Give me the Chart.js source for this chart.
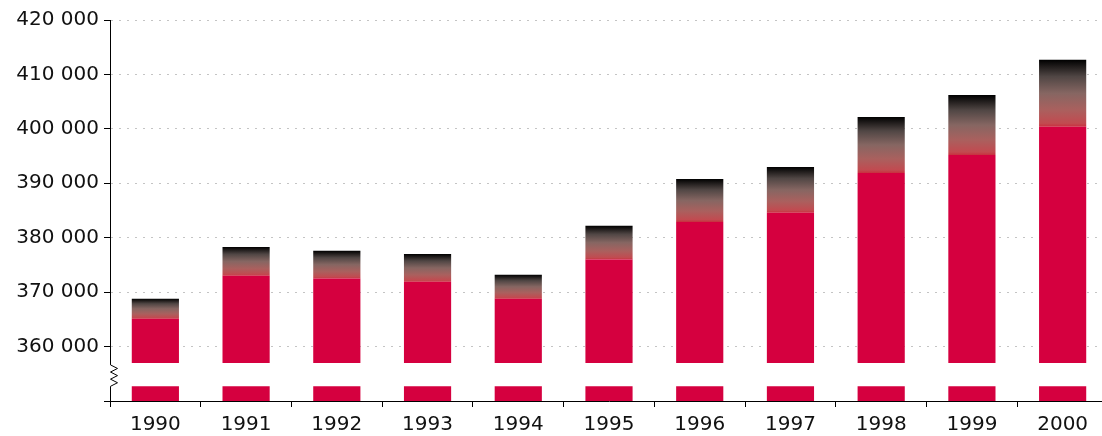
<!DOCTYPE html>
<html lang="en">
<head>
    <meta charset="UTF-8">
    <title>Bars 1990-2000</title>
    <script src="https://cdn.jsdelivr.net/npm/chart.js"></script>
    <style>
        html, body { margin: 0; padding: 0; background: #fff; overflow: hidden; }
        /* a little wider than the window: the last category runs off the right edge */
        #wrap { width: 1108px; height: 436px; }
    </style>
</head>
<body>
    <div id="wrap"><canvas id="myChart"></canvas></div>

    <script>
        // data
        const years = ['1990', '1991', '1992', '1993', '1994', '1995', '1996', '1997', '1998', '1999', '2000'];
        const redPart = [365100, 373000, 372500, 371900, 368800, 376000, 382900, 384600, 391900, 395200, 400400];
        const totals = [368800, 378300, 377600, 377000, 373200, 382200, 390800, 393000, 402200, 406200, 412700];

        // axis range and the break in it
        const yMin = 350000;
        const yMax = 420000;
        const yStep = 10000;
        const breakLow = 352700;
        const breakHigh = 357000;

        const red = '#d5003f';
        const font = { family: 'DejaVu Sans', size: 20 };

        function fmt(v) {
            return String(v).replace(/\B(?=(\d{3})+(?!\d))/g, ' ');
        }

        function topGradient(ctx) {
            const chart = ctx.chart;
            const y = chart.scales.y;
            if (!chart.chartArea || !y || ctx.dataIndex === undefined) return red;
            const i = ctx.dataIndex;
            const top = y.getPixelForValue(totals[i]);
            const bottom = y.getPixelForValue(redPart[i]);
            const g = chart.ctx.createLinearGradient(0, bottom, 0, top);
            g.addColorStop(0, '#c8303f');
            g.addColorStop(0.05, '#c24a50');
            g.addColorStop(0.25, '#aa605e');
            g.addColorStop(0.5, '#866662');
            g.addColorStop(0.75, '#504644');
            g.addColorStop(1, '#000000');
            return g;
        }

        // zigzag on the y axis where it is broken
        const axisBreak = {
            id: 'axisBreak',
            afterDraw(chart) {
                const c = chart.ctx;
                const y = chart.scales.y;
                const x0 = Math.round(chart.chartArea.left) + 0.5;
                const yTop = y.getPixelForValue(breakHigh) + 2;
                const yBot = y.getPixelForValue(breakLow);
                c.save();
                c.fillStyle = '#fff';
                c.fillRect(x0 - 2, yTop, 4, yBot - yTop);
                c.strokeStyle = '#000';
                c.lineWidth = 1;
                c.beginPath();
                c.moveTo(x0, yTop);
                const n = 6;
                const h = (yBot - yTop) / n;
                for (let k = 1; k <= n; k++) {
                    c.lineTo(k % 2 ? x0 + 7 : x0, yTop + h * k);
                }
                c.stroke();
                c.restore();
            }
        };

        const ctx = document.getElementById('myChart').getContext('2d');
        const myChart = new Chart(ctx, {
            type: 'bar',
            data: {
                labels: years,
                datasets: [{
                    label: 'low',
                    data: years.map(() => [yMin, breakLow]),
                    backgroundColor: red,
                    grouped: false
                }, {
                    label: 'base',
                    data: redPart.map(v => [breakHigh, v]),
                    backgroundColor: red,
                    grouped: false
                }, {
                    label: 'top',
                    data: redPart.map((v, i) => [v, totals[i]]),
                    backgroundColor: topGradient,
                    grouped: false
                }]
            },
            options: {
                responsive: true,
                maintainAspectRatio: false,
                animation: false,
                layout: { padding: { top: 20, right: 0, left: 0, bottom: 0 } },
                datasets: {
                    bar: { categoryPercentage: 1, barPercentage: 0.52, borderWidth: 0 }
                },
                plugins: {
                    legend: { display: false },
                    tooltip: { enabled: false }
                },
                scales: {
                    x: {
                        offset: true,
                        grid: {
                            offset: true,
                            drawOnChartArea: false,
                            drawTicks: true,
                            tickLength: 6,
                            tickColor: '#000'
                        },
                        border: { display: true, color: '#000', width: 1 },
                        ticks: { color: '#111', font: font, padding: 6 },
                        afterFit(scale) { scale.height = 35; }
                    },
                    y: {
                        min: yMin,
                        max: yMax,
                        grid: {
                            color: '#c4c4c4',
                            lineWidth: 1,
                            tickLength: 6,
                            tickColor: '#000',
                            tickBorderDash: [1, 0]
                        },
                        border: { display: true, color: '#000', width: 1, dash: [2, 6] },
                        ticks: {
                            stepSize: yStep,
                            color: '#111',
                            font: font,
                            padding: 5,
                            callback: v => v === yMin ? '' : fmt(v)
                        },
                        afterFit(scale) { scale.width = 110; }
                    }
                }
            },
            plugins: [axisBreak]
        });
    </script>
</body>
</html>
